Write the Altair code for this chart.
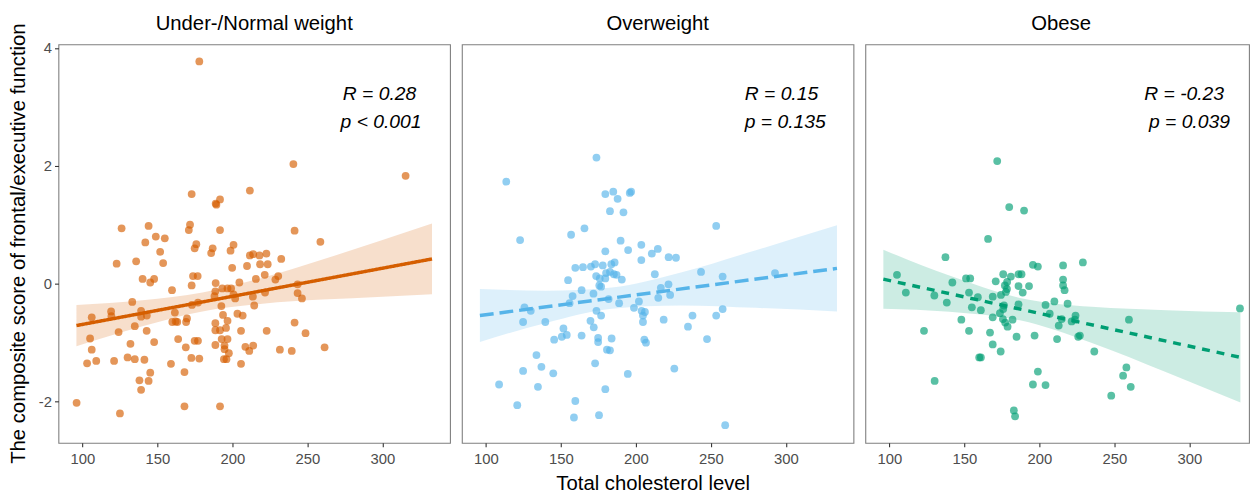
import altair as alt
import pandas as pd

groups = ["Under-/Normal weight", "Overweight", "Obese"]
colors = ["#D55E00", "#56B4E9", "#009E73"]
dashes = [[1, 0], [14, 6], [8, 7]]
y_title = "The composite score of frontal/executive function"
x_title = "Total cholesterol level"

# Panel 1: Under-/Normal weight
x1 = [177.9,126.1,122.8,135.8,106.2,105.1,106.2,103.1,109.2,96.1,125.0,119.1,119.3,124.1,121.1,132.0,130.1,134.9,133.2,134.9,
      140.1,139.1,139.1,142.9,138.0,139.1,144.1,145.2,141.3,147.8,
      172.8,191.7,188.8,189.3,211.6,144.1,171.7,170.9,191.7,241.4,141.9,148.9,154.9,175.9,174.8,200.7,151.8,186.8,185.8,198.7,
      153.8,211.6,213.8,222.6,199.8,209.7,218.4,223.5,232.5,147.8,145.2,173.7,176.8,172.8,159.7,188.8,204.6,215.6,221.5,228.6,
      230.5,188.6,188.0,193.2,196.7,199.1,200.7,201.8,213.6,221.7,214.5,243.4,243.4,246.3,173.0,177.0,192.6,161.6,162.1,159.9,
      163.2,169.7,169.1,193.7,196.7,203.3,206.8,188.6,188.6,191.7,195.7,142.8,163.8,174.8,177.0,168.9,188.6,192.8,196.7,194.7,
      194.7,197.6,196.0,194.3,205.7,222.8,241.4,248.7,208.6,211.2,213.8,231.6,239.5,172.6,177.9,159.0,168.0,205.7,168.0,191.7,
      240.6,315.4,258.6,261.4,218.0]
y1 = [3.77,0.94,0.34,0.38,-0.57,-0.93,-1.12,-1.35,-1.31,-2.02,-2.20,-0.47,-0.55,-0.82,-1.31,-1.02,-1.25,-1.28,-0.31,-0.72,
      0.08,-0.46,-0.56,-0.54,-1.64,-1.80,-1.65,-1.51,-1.29,-0.99,
      1.52,1.43,1.36,1.34,1.58,0.98,1.00,0.91,0.91,0.90,0.70,0.80,0.77,0.67,0.60,0.66,0.54,0.60,0.52,0.56,
      0.35,0.48,0.50,0.51,0.27,0.30,0.33,0.33,0.42,0.08,0.02,0.13,0.13,-0.03,-0.11,0.01,0.02,0.08,0.15,0.07,
      0.13,-0.13,-0.21,-0.08,-0.08,-0.08,-0.18,-0.25,-0.22,-0.15,-0.37,-0.01,-0.16,-0.25,-0.36,-0.32,-0.38,-0.49,-0.64,-0.65,
      -0.65,-0.59,-0.65,-0.53,-0.63,-0.51,-0.54,-0.67,-0.79,-0.79,-0.75,-0.80,-0.94,-0.97,-0.97,-1.08,-1.04,-0.94,-0.94,-1.05,
      -1.11,-1.18,-1.28,-1.28,-0.80,-0.80,-0.66,-0.84,-1.07,-1.14,-1.05,-1.12,-1.14,-1.26,-1.27,-1.36,-1.50,-1.36,-2.08,-2.08,
      2.03,1.83,0.71,-1.08,0.48]

# Panel 2: Overweight
x2 = [113.6,122.8,125.7,129.9,124.8,139.6,133.7,137.0,124.8,144.9,108.8,134.7,120.9,145.5,151.7,150.6,153.9,173.7,179.6,184.9,
      187.8,196.8,195.9,182.7,191.7,156.8,165.7,189.8,179.6,194.8,203.6,210.6,214.6,221.8,226.7,203.6,159.6,164.7,170.0,172.8,
      177.9,183.6,185.8,173.5,175.9,180.1,179.6,182.7,185.3,187.1,190.6,175.6,176.8,154.8,163.8,212.6,243.4,171.7,157.8,155.8,
      181.8,216.6,221.7,222.8,214.9,188.8,202.0,198.7,173.7,176.8,203.8,206.0,204.7,237.7,169.7,171.9,204.7,218.5,234.7,163.8,
      174.8,174.8,183.8,180.7,182.7,205.6,206.7,172.8,194.6,225.6,179.6,159.6,158.7,175.4,253.5,257.8,292.7,253.5,257.8,247.4,
      259.5]
y2 = [1.73,0.74,-0.40,-0.46,-0.65,-0.65,-1.21,-1.41,-1.48,-1.52,-1.71,-1.75,-2.06,-0.95,-0.76,-0.90,-0.87,2.14,1.52,1.56,
      1.44,1.56,1.54,1.23,1.21,0.83,0.94,0.73,0.55,0.57,0.66,0.51,0.59,0.45,0.44,0.40,0.27,0.28,0.29,0.33,
      0.31,0.33,0.36,0.13,0.09,0.18,0.09,0.20,0.16,0.15,0.07,-0.03,-0.05,0.06,-0.11,0.16,0.20,-0.17,-0.21,-0.33,
      -0.26,-0.07,-0.01,-0.19,-0.24,-0.33,-0.30,-0.41,-0.46,-0.54,-0.46,-0.48,-0.54,-0.54,-0.63,-0.74,-0.65,-0.61,-0.73,-0.88,
      -0.92,-0.99,-0.93,-1.12,-1.13,-0.95,-1.00,-1.35,-1.53,-1.44,-1.79,-1.99,-2.27,-2.23,0.98,0.12,0.18,-0.54,-0.43,-0.94,
      -2.40]

# Panel 3: Obese
x3 = [105.1,111.0,123.1,130.2,130.0,171.9,179.9,189.8,165.8,137.4,195.7,199.0,215.8,229.0,151.1,153.9,142.0,170.9,175.9,181.0,
      186.1,188.1,178.5,177.0,178.4,177.7,186.1,188.9,193.1,215.8,215.8,216.8,153.1,159.0,174.4,168.9,138.3,155.0,161.0,176.4,
      186.1,204.1,210.0,218.8,173.7,175.9,168.9,175.7,177.2,178.8,182.1,206.9,221.5,224.1,223.7,214.9,212.9,148.0,153.1,167.1,
      184.8,196.8,211.8,225.9,227.0,168.9,174.2,159.9,161.0,199.0,195.7,204.1,183.0,183.8,236.6,259.7,258.0,255.8,260.9,247.9,
      333.7]
y3 = [0.15,-0.15,-0.80,-1.65,-0.20,2.08,1.30,1.24,0.76,0.45,0.32,0.29,0.31,0.36,0.09,0.09,0.02,0.04,0.16,0.12,
      0.16,0.16,0.03,-0.03,-0.09,-0.14,-0.04,-0.15,-0.04,0.07,-0.03,-0.11,-0.15,-0.23,-0.19,-0.22,-0.32,-0.40,-0.45,-0.37,
      -0.35,-0.36,-0.30,-0.34,-0.50,-0.43,-0.57,-0.60,-0.66,-0.73,-0.61,-0.51,-0.64,-0.54,-0.61,-0.60,-0.71,-0.61,-0.80,-0.83,
      -0.90,-0.88,-0.94,-0.90,-0.88,-1.03,-1.15,-1.25,-1.25,-1.49,-1.71,-1.72,-2.15,-2.25,-1.15,-0.61,-1.42,-1.56,-1.75,-1.90,
      -0.42]

# Fitted lines
fit_x = [[96, 333], [96, 334], [96, 334]]
fit_y = [[-0.71, 0.42], [-0.54, 0.26], [0.077, -1.25]]

# Confidence bands
band_x = [[96, 140, 180, 220, 260, 300, 333],
          [96, 140, 184, 230, 280, 334],
          [96, 140, 187, 235, 285, 334]]
band_lo = [[-1.06, -0.72, -0.47, -0.34, -0.27, -0.22, -0.18],
           [-0.99, -0.665, -0.424, -0.369, -0.41, -0.47],
           [-0.423, -0.475, -0.621, -1.005, -1.507, -2.015]]
band_hi = [[-0.36, -0.28, -0.15, 0.10, 0.41, 0.74, 1.02],
           [-0.09, -0.119, -0.064, 0.191, 0.568, 0.99],
           [0.577, 0.137, -0.241, -0.393, -0.449, -0.485]]

# Annotations
r_text = ["R = 0.28", "R = 0.15", "R = -0.23"]
p_text = ["p < 0.001", "p = 0.135", "p = 0.039"]
r_x = [298, 297, 296.5]
p_x = [299, 299.5, 300]
r_y = 3.21
p_y = 2.75

xs = [x1, x2, x3]
ys = [y1, y2, y3]

FONT = "Liberation Sans"
H = 403
widths = [396, 396, 388]
xmax = [345, 345, 84 + 388 * 261 / 396]
y_domain = [-2.70, 4.06]


def panel(i):
    xscale = alt.Scale(domain=[84, xmax[i]], nice=False, zero=False)
    yscale = alt.Scale(domain=y_domain, nice=False, zero=False)
    xaxis = alt.Axis(values=[100, 150, 200, 250, 300],
                     title=x_title if i == 1 else None,
                     titleX=193, labelPadding=5, titlePadding=7)
    if i == 0:
        yaxis = alt.Axis(values=[-2, 0, 2, 4], title=None,
                         labelExpr="'' + datum.value")
    else:
        yaxis = None

    pts = pd.DataFrame({"x": xs[i], "y": ys[i]})
    fit = pd.DataFrame({"x": fit_x[i], "y": fit_y[i]})
    band = pd.DataFrame({"x": band_x[i], "lo": band_lo[i], "hi": band_hi[i]})
    ann = pd.DataFrame({"x": [r_x[i], p_x[i]], "y": [r_y, p_y],
                        "t": [r_text[i], p_text[i]]})
    head = pd.DataFrame({"t": [groups[i]]})

    X = alt.X("x:Q", scale=xscale, axis=xaxis)

    band_l = alt.Chart(band).mark_area(color=colors[i], opacity=0.2,
                                       interpolate="monotone").encode(
        x=X, y=alt.Y("lo:Q", scale=yscale, axis=yaxis), y2="hi:Q")
    pts_l = alt.Chart(pts).mark_circle(color=colors[i], opacity=0.65, size=62).encode(
        x=X, y=alt.Y("y:Q", scale=yscale, axis=yaxis))
    line_l = alt.Chart(fit).mark_line(color=colors[i], strokeWidth=3.5,
                                      strokeDash=dashes[i]).encode(
        x=X, y=alt.Y("y:Q", scale=yscale, axis=yaxis))
    txt_l = alt.Chart(ann).mark_text(font=FONT, fontSize=19.5, fontStyle="italic",
                                     align="center", baseline="middle",
                                     color="black").encode(
        x=X, y=alt.Y("y:Q", scale=yscale, axis=yaxis), text="t:N")
    head_l = alt.Chart(head).mark_text(font=FONT, fontSize=20.5, align="center",
                                       baseline="middle", color="black").encode(
        x=alt.value(198), y=alt.value(-20.7), text="t:N")

    layers = [band_l, pts_l, line_l, txt_l, head_l]
    if i == 0:
        yt = pd.DataFrame({"t": [y_title]})
        layers.append(alt.Chart(yt).mark_text(font=FONT, fontSize=20.5, angle=270,
                                              align="center", baseline="middle",
                                              color="black").encode(
            x=alt.value(-40), y=alt.value(H / 2), text="t:N"))

    return alt.layer(*layers).properties(width=widths[i], height=H)


chart = alt.hconcat(panel(0), panel(1), panel(2), spacing=10).properties(
    padding={"left": 0, "top": 2, "right": 0, "bottom": 0}
).configure_view(
    stroke="#7F7F7F", strokeWidth=1.1
).configure_axis(
    domain=False, grid=False, tickColor="#333333", tickSize=4, tickWidth=1.1,
    labelColor="#4D4D4D", labelFont=FONT, labelFontSize=15, labelPadding=3,
    titleFont=FONT, titleFontSize=20.5, titleColor="black", titleFontWeight="normal",
    titlePadding=6
)

chart.save("out.html", embed_options={"renderer": "svg", "actions": False})
